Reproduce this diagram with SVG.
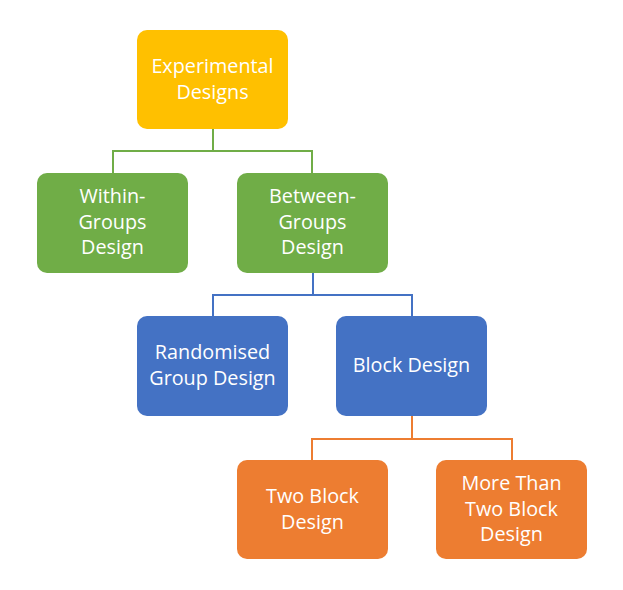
<svg xmlns="http://www.w3.org/2000/svg" width="623" height="590" viewBox="0 0 623 590">
<style>
.box{stroke:none}
.y{fill:#FFC000}.g{fill:#70AD47}.b{fill:#4472C4}.o{fill:#ED7D31}
text{font-family:"Open Sans","Noto Sans",sans-serif;font-size:19.8px;fill:#fff;text-anchor:middle}
.c{fill:none;stroke-width:2}
</style>
<rect width="623" height="590" fill="#fff"/>
<g id="connectors">
<path class="c" stroke="#70AD47" d="M213,129V151M113,151H312M113,150V173M312,150V173"/>
<path class="c" stroke="#4472C4" d="M313,273V295M213,295H412M213,294V316M412,294V316"/>
<path class="c" stroke="#ED7D31" d="M412,416V439M312,439H512M312,438V460M512,438V460"/>
</g>
<g id="experimental"><rect class="box y" x="137" y="30" width="151" height="99" rx="10"/><text x="212.5" y="73">Experimental</text><text x="212.5" y="99">Designs</text></g>
<g id="within"><rect class="box g" x="37" y="173" width="151" height="100" rx="10"/><text x="112.5" y="203">Within-</text><text x="112.5" y="229">Groups</text><text x="112.5" y="254">Design</text></g>
<g id="between"><rect class="box g" x="237" y="173" width="151" height="100" rx="10"/><text x="312.5" y="203">Between-</text><text x="312.5" y="229">Groups</text><text x="312.5" y="254">Design</text></g>
<g id="randomised"><rect class="box b" x="137" y="316" width="151" height="100" rx="10"/><text x="212.5" y="359">Randomised</text><text x="212.5" y="385">Group Design</text></g>
<g id="block"><rect class="box b" x="336" y="316" width="151" height="100" rx="10"/><text x="411.5" y="372">Block Design</text></g>
<g id="twoblock"><rect class="box o" x="237" y="460" width="151" height="99" rx="10"/><text x="312.5" y="503">Two Block</text><text x="312.5" y="529">Design</text></g>
<g id="morethan"><rect class="box o" x="436" y="460" width="151" height="99" rx="10"/><text x="511.5" y="490">More Than</text><text x="511.5" y="516">Two Block</text><text x="511.5" y="541">Design</text></g>
</svg>
